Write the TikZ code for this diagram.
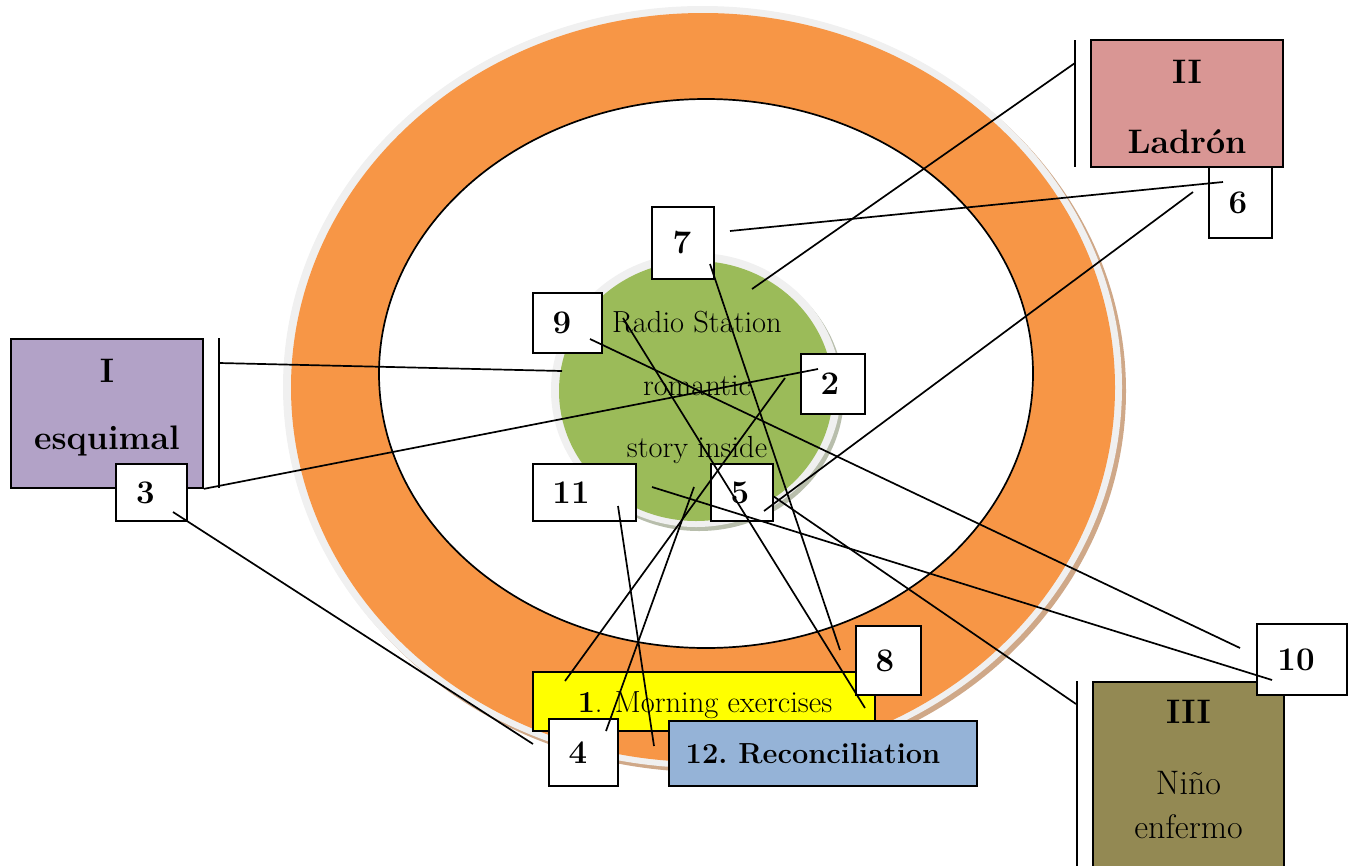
\documentclass[tikz,border=0pt]{standalone}
\definecolor{orng}{HTML}{F79646}
\definecolor{grn}{HTML}{9BBB59}
\definecolor{rim}{HTML}{F0F0F0}
\definecolor{tanc}{HTML}{CFA888}
\definecolor{gshadow}{HTML}{B8BEAC}
\definecolor{purp}{HTML}{B2A2C7}
\definecolor{pink}{HTML}{D99694}
\definecolor{blu}{HTML}{95B3D7}
\definecolor{oliv}{HTML}{938953}
\definecolor{yel}{HTML}{FFFF00}
\tikzset{
  boxbase/.style={draw=black,line width=1.7pt,inner sep=0pt},
  numbox/.style={boxbase,fill=white,font=\fontsize{33}{38}\selectfont\bfseries},
  lbl/.style={inner sep=0pt,font=\fontsize{34}{38}\selectfont\bfseries},
  lblr/.style={inner sep=0pt,font=\fontsize{34}{38}\selectfont},
  ctext/.style={inner sep=0pt,font=\fontsize{30.5}{34}\selectfont},
  conn/.style={line width=1.7pt,draw=black},
  bracket/.style={line width=1.7pt,draw=black}
}
\begin{document}
\begin{tikzpicture}[x=1pt,y=-1pt]
\useasboundingbox (0,0) rectangle (1357,865);
% rings
\fill[tanc] (706.5,391) ellipse [x radius=419.5pt, y radius=381pt];
\fill[rim] (702.5,387) ellipse [x radius=419.5pt, y radius=381pt];
\fill[orng] (703,387.5) ellipse [x radius=412pt, y radius=374.5pt];
\draw[fill=white,line width=1.7pt] (706,373.5) ellipse [x radius=327pt, y radius=274.5pt];
\fill[gshadow] (699,394) ellipse [x radius=145pt, y radius=137pt];
\fill[rim] (696,390) ellipse [x radius=145pt, y radius=137pt];
\fill[grn] (696,391) ellipse [x radius=137pt, y radius=130pt];
\node[ctext] (t1) at (697,322) {Radio Station};
\node[ctext] (t2) at (697,386) {romantic};
\node[ctext] (t3) at (697,450) {story inside};
% group boxes
\node[boxbase,fill=purp,minimum width=192pt,minimum height=149pt] (esq) at (107,413.5) {};
\node[lbl] (esqa) at (107,371) {I};
\node[lbl] (esqb) at (107,441) {esquimal};
\node[boxbase,fill=pink,minimum width=192pt,minimum height=127pt] (lad) at (1187,103.5) {};
\node[lbl] (lada) at (1187,72) {II};
\node[lbl] (ladb) at (1187,142) {Ladr\'on};
\node[boxbase,fill=oliv,minimum width=191pt,minimum height=200pt,anchor=north] (nino) at (1188.5,681) {};
\node[lbl] (ninoa) at (1188.5,712) {III};
\node[lblr] (ninob) at (1188.5,783) {Ni\~no};
\node[lblr] (ninoc) at (1188.5,827) {enfermo};
% brackets
\coordinate (bIt) at (219,338); \coordinate (bIb) at (219,488);
\coordinate (bIIt) at (1075,40); \coordinate (bIIb) at (1075,167);
\coordinate (bIIIt) at (1077,681); \coordinate (bIIIb) at (1077,870);
\draw[bracket] (bIt) -- (bIb);
\draw[bracket] (bIIt) -- (bIIb);
\draw[bracket] (bIIIt) -- (bIIIb);
% event boxes
\node[boxbase,fill=yel,minimum width=342pt,minimum height=59pt] (n1) at (704,701.5) {};
\node[inner sep=0pt,font=\fontsize{30.5}{34}\selectfont] (n1t) at (705,705) {\textbf{1}. Morning exercises};
\node[numbox,minimum width=71pt,minimum height=57pt] (n3) at (151.5,492.5) {3\kern12pt};
\node[numbox,minimum width=63pt,minimum height=71pt] (n6) at (1240.5,202.5) {6\kern5pt};
\node[numbox,minimum width=62pt,minimum height=72pt] (n7) at (683,243) {7\kern2pt};
\node[numbox,minimum width=69pt,minimum height=60pt] (n9) at (567.5,323) {9\kern11pt};
\node[numbox,minimum width=64pt,minimum height=60pt] (n2) at (833,384) {2\kern6pt};
\node[numbox,minimum width=103pt,minimum height=57pt] (n11) at (584.5,492.5) {11\kern27pt};
\node[numbox,minimum width=62pt,minimum height=57pt] (n5) at (742,492.5) {5\kern4pt};
\node[numbox,minimum width=65pt,minimum height=69pt] (n8) at (888.5,660.5) {8\kern7pt};
\node[numbox,minimum width=90pt,minimum height=71pt] (n10) at (1302,659.5) {10\kern12pt};
\node[numbox,minimum width=69pt,minimum height=67pt] (n4) at (583.5,752.5) {4\kern11pt};
\node[boxbase,fill=blu,minimum width=308pt,minimum height=65pt,font=\fontsize{29}{32}\selectfont\bfseries] (n12) at (823,753.5) {12.\ Reconciliation\kern20pt};
% connector end points
\coordinate (p1a) at (219,363);  \coordinate (p1b) at (562,371);
\coordinate (p2b) at (818,369);
\coordinate (p3a) at (173,512);  \coordinate (p3b) at (533,744);
\coordinate (p4a) at (1075,63);  \coordinate (p4b) at (752,289);
\coordinate (p5a) at (1223,182); \coordinate (p5b) at (730,231);
\coordinate (p6a) at (1193,192); \coordinate (p6b) at (764,511);
\coordinate (p7a) at (710,264);  \coordinate (p7b) at (840,650);
\coordinate (p8a) at (590,339);  \coordinate (p8b) at (1240,648);
\coordinate (p9a) at (623,318);  \coordinate (p9b) at (865,708);
\coordinate (p10a) at (785,378); \coordinate (p10b) at (565,681);
\coordinate (p11a) at (652,487); \coordinate (p11b) at (1272,680);
\coordinate (p12a) at (618,506); \coordinate (p12b) at (654,746);
\coordinate (p13a) at (773,496); \coordinate (p13b) at (1076,704);
\coordinate (p14a) at (694,487); \coordinate (p14b) at (606,731);
% connectors
\draw[conn] (p1a) -- (p1b);
\draw[conn] (esq.south east) -- (p2b);
\draw[conn] (p3a) -- (p3b);
\draw[conn] (p4a) -- (p4b);
\draw[conn] (p5a) -- (p5b);
\draw[conn] (p6a) -- (p6b);
\draw[conn] (p7a) -- (p7b);
\draw[conn] (p8a) -- (p8b);
\draw[conn] (p9a) -- (p9b);
\draw[conn] (p10a) -- (p10b);
\draw[conn] (p11a) -- (p11b);
\draw[conn] (p12a) -- (p12b);
\draw[conn] (p13a) -- (p13b);
\draw[conn] (p14a) -- (p14b);
\end{tikzpicture}
\end{document}
